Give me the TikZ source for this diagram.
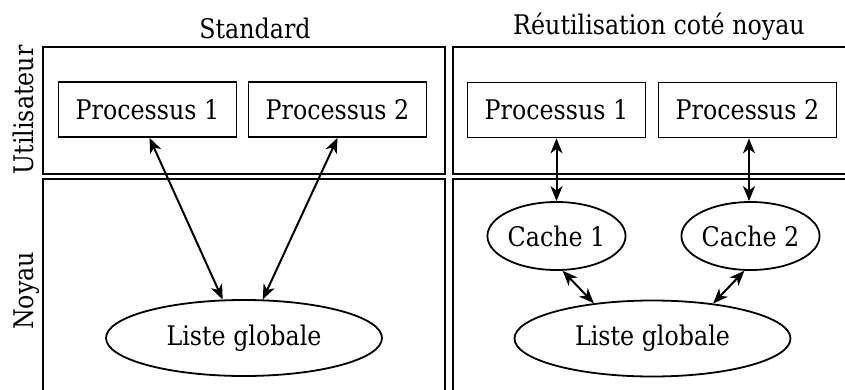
\documentclass[tikz,border=0pt]{standalone}
\usepackage{fontspec}
\setmainfont{DejaVu Serif}[FakeStretch=0.88]
\usetikzlibrary{arrows.meta,shapes.geometric}
\tikzset{
  panel/.style={draw,line width=1.2pt},
  procbox/.style={draw,line width=0.85pt,rectangle,inner sep=0pt,minimum width=89pt,minimum height=27.5pt},
  bigell/.style={draw,line width=0.9pt,ellipse,inner sep=0pt,minimum width=138pt,minimum height=38pt},
  smallell/.style={draw,line width=0.9pt,ellipse,inner sep=0pt,minimum width=67.5pt,minimum height=34pt},
  conn/.style={line width=1pt,{Stealth[length=7.5pt,width=6pt,inset=2.2pt]}-{Stealth[length=7.5pt,width=6pt,inset=2.2pt]}},
  lbl/.style={inner sep=0pt}
}
\begin{document}
\begin{tikzpicture}[x=0.5pt,y=-0.5pt,font=\fontsize{13.5}{16}\selectfont]
\clip (0,0) rectangle (845,390);
% panels
\draw[panel] (43,47) rectangle (445,174);
\draw[panel] (43,179) rectangle (445,420);
\draw[panel] (453,47) rectangle (880,174);
\draw[panel] (453,179) rectangle (880,420);
% titles and side labels
\node[lbl,anchor=base] (tstd) at (255,39) {Standard};
\node[lbl,anchor=base] (treu) at (659,35) {Réutilisation coté noyau};
\node[lbl,anchor=base,rotate=90] (lusr) at (33,110) {Utilisateur};
\node[lbl,anchor=base,rotate=90] (lker) at (33,291) {Noyau};
% left panel
\node[procbox] (lp1) at (147.5,109.5) {Processus 1};
\node[procbox] (lp2) at (337.5,109.5) {Processus 2};
\node[bigell] (llg) at (244,338) {Liste globale};
\draw[conn] ([xshift=1pt]lp1.south) -- (llg.119);
\draw[conn] (lp2.south) -- (llg.64);
% right panel
\node[procbox] (rp1) at (556.5,110) {Processus 1};
\node[procbox] (rp2) at (747.5,110) {Processus 2};
\node[smallell] (rc1) at (556.5,236) {Cache 1};
\node[smallell] (rc2) at (750.5,236) {Cache 2};
\node[bigell] (rlg) at (652.5,338.5) {Liste globale};
\draw[conn] (rp1.south) -- (rc1.north);
\draw[conn] ([xshift=0.75pt]rp2.south) -- ([xshift=-0.75pt]rc2.north);
\draw[conn] (rc1.-80) -- (rlg.149);
\draw[conn] (rc2.-100) -- (rlg.30);
\end{tikzpicture}
\end{document}
